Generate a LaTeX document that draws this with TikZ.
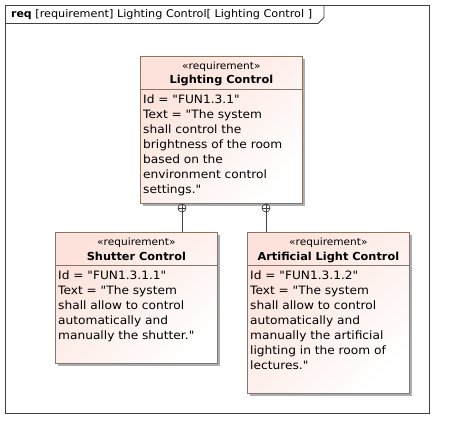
\documentclass[tikz,border=0pt]{standalone}
\usepackage{fontspec}
\setmainfont{DejaVu Sans}[Ligatures=TeXOff, FakeStretch=1.06, BoldFeatures={FakeStretch=1.03}]
\usetikzlibrary{positioning,shadows}
\definecolor{reqpink}{RGB}{252,226,218}
\definecolor{reqedge}{RGB}{140,115,100}
\definecolor{framegray}{RGB}{64,64,64}
\begin{document}
\begin{tikzpicture}[x=1pt, y=-1pt, font=\fontsize{11.5}{15}\selectfont,
    req/.style = {draw=reqedge, line width=0.8pt, top color=reqpink, bottom color=white, shading angle=45,
        minimum width=162pt, anchor=north west, inner sep=0pt,
        drop shadow={shadow xshift=3pt, shadow yshift=-3pt, fill=black!32, opacity=1}},
    stereo/.style = {anchor=base, inner sep=0pt, font=\fontsize{10}{12}\selectfont},
    title/.style = {anchor=base, inner sep=0pt, font=\fontsize{11}{13}\selectfont\bfseries},
    body/.style = {anchor=north west, inner sep=0pt, text width=200pt, align=left},
    sep/.style = {draw=reqedge, line width=0.8pt},
    plus/.style = {draw=framegray, circle, minimum size=8pt, inner sep=0pt, line width=0.7pt},
    link/.style = {draw=framegray, line width=0.8pt}]
    \useasboundingbox (0,0) rectangle (454,438);
    \draw[framegray, line width=0.9pt] (5,5) rectangle (429,413);
    \draw[framegray, line width=0.9pt] (5,23.5) -- (318,23.5) -- (324,17.5) -- (324,5);
    \node[anchor=base west, inner sep=0pt, font=\fontsize{10.6}{12}\selectfont] (frame) at (11,18) {\textbf{req} [requirement] Lighting Control[ Lighting Control ]};
    \node[req, minimum height=147pt] (LC) at (140,56) {};
    \node[req, minimum height=131pt] (SC) at (55,232) {};
    \node[req, minimum height=161pt] (ALC) at (247,232) {};
    \draw[sep] ([yshift=-33pt]LC.north west) -- ([yshift=-33pt]LC.north east);
    \draw[sep] ([yshift=-33pt]SC.north west) -- ([yshift=-33pt]SC.north east);
    \draw[sep] ([yshift=-33pt]ALC.north west) -- ([yshift=-33pt]ALC.north east);
    \node[stereo] (LCst) at ([yshift=-13.5pt]LC.north) {«requirement»};
    \node[title] (LCname) at ([yshift=-28pt]LC.north) {Lighting Control};
    \node[stereo] (SCst) at ([yshift=-13.5pt]SC.north) {«requirement»};
    \node[title] (SCname) at ([yshift=-28pt]SC.north) {Shutter Control};
    \node[stereo] (ALCst) at ([yshift=-13.5pt]ALC.north) {«requirement»};
    \node[title] (ALCname) at ([yshift=-28pt]ALC.north) {Artificial Light Control};
    \node[body] (LCtext) at ([xshift=3pt, yshift=-38.5pt]LC.north west) {Id = "FUN1.3.1"\\Text = "The system\\shall control the\\brightness of the room\\based on the\\environment control\\settings."};
    \node[body] (SCtext) at ([xshift=3pt, yshift=-38.5pt]SC.north west) {Id = "FUN1.3.1.1"\\Text = "The system\\shall allow to control\\automatically and\\manually the shutter."};
    \node[body] (ALCtext) at ([xshift=3pt, yshift=-38.5pt]ALC.north west) {Id = "FUN1.3.1.2"\\Text = "The system\\shall allow to control\\automatically and\\manually the artificial\\lighting in the room of\\lectures."};
    \node[plus] (LCa) at (182,208) {};
    \node[plus] (LCb) at (266,208) {};
    \draw[link] (LCa.north) -- (LCa.south) (LCa.west) -- (LCa.east);
    \draw[link] (LCb.north) -- (LCb.south) (LCb.west) -- (LCb.east);
    \draw[link] (LCa.south) -- (LCa.south |- SC.north);
    \draw[link] (LCb.south) -- (LCb.south |- ALC.north);
\end{tikzpicture}
\end{document}
